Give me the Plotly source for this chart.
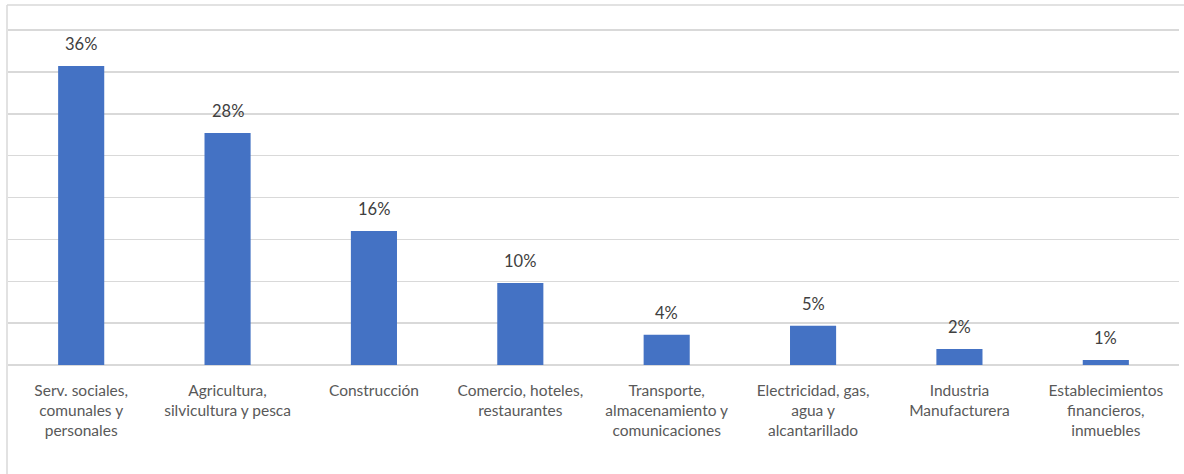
import plotly.graph_objects as go

categories = [
    "Serv. sociales,<br>comunales y<br>personales",
    "Agricultura,<br>silvicultura y pesca",
    "Construcción",
    "Comercio, hoteles,<br>restaurantes",
    "Transporte,<br>almacenamiento y<br>comunicaciones",
    "Electricidad, gas,<br>agua y<br>alcantarillado",
    "Industria<br>Manufacturera",
    "Establecimientos<br>financieros,<br>inmuebles",
]
values = [35.7, 27.7, 16.0, 9.8, 3.6, 4.7, 1.9, 0.6]
labels = ["36%", "28%", "16%", "10%", "4%", "5%", "2%", "1%"]

W, H = 1184, 474
L, R, T, B = 8, 5, 28, 109
FONT = "Lato"

fig = go.Figure(
    go.Bar(
        x=categories,
        y=values,
        marker=dict(color="#4472C4", line=dict(width=0)),
        width=0.315,
        hoverinfo="skip",
    )
)

for c, v, t in zip(categories, values, labels):
    fig.add_annotation(
        x=c, y=v, text=t, showarrow=False, yanchor="bottom", yshift=10,
        font=dict(family=FONT, size=16.5, color="#404040"),
    )

pw = W - L - R
ph = H - T - B
def px_x(p):
    return (p - L) / pw
def px_y(p):
    return (H - B - p) / ph

border = "#d9d9d9"
fig.add_shape(type="line", xref="paper", yref="paper",
              x0=px_x(7), x1=px_x(7), y0=px_y(5), y1=px_y(474),
              line=dict(color=border, width=1.5))
fig.add_shape(type="line", xref="paper", yref="paper",
              x0=px_x(7), x1=px_x(1184), y0=px_y(5), y1=px_y(5),
              line=dict(color=border, width=1.5))

fig.update_layout(
    width=W, height=H,
    margin=dict(l=L, r=R, t=T, b=B, pad=0),
    paper_bgcolor="white", plot_bgcolor="white",
    showlegend=False,
    font=dict(family=FONT, size=15, color="#595959"),
    xaxis=dict(
        showgrid=False, showline=False, zeroline=False, ticks="",
        tickfont=dict(family=FONT, size=15.5, color="#595959"),
        ticklabelstandoff=14,
    ),
    yaxis=dict(
        range=[0, 40.25], dtick=5, showticklabels=False,
        showgrid=True, gridcolor="#d9d9d9", gridwidth=1.5,
        zeroline=True, zerolinecolor="#d9d9d9", zerolinewidth=1.5,
        showline=False, ticks="", fixedrange=True,
    ),
)

fig.write_html(
    "out.html",
    config={"displayModeBar": False, "staticPlot": True},
    post_script="document.body.style.margin='0';document.body.style.padding='0';",
)
